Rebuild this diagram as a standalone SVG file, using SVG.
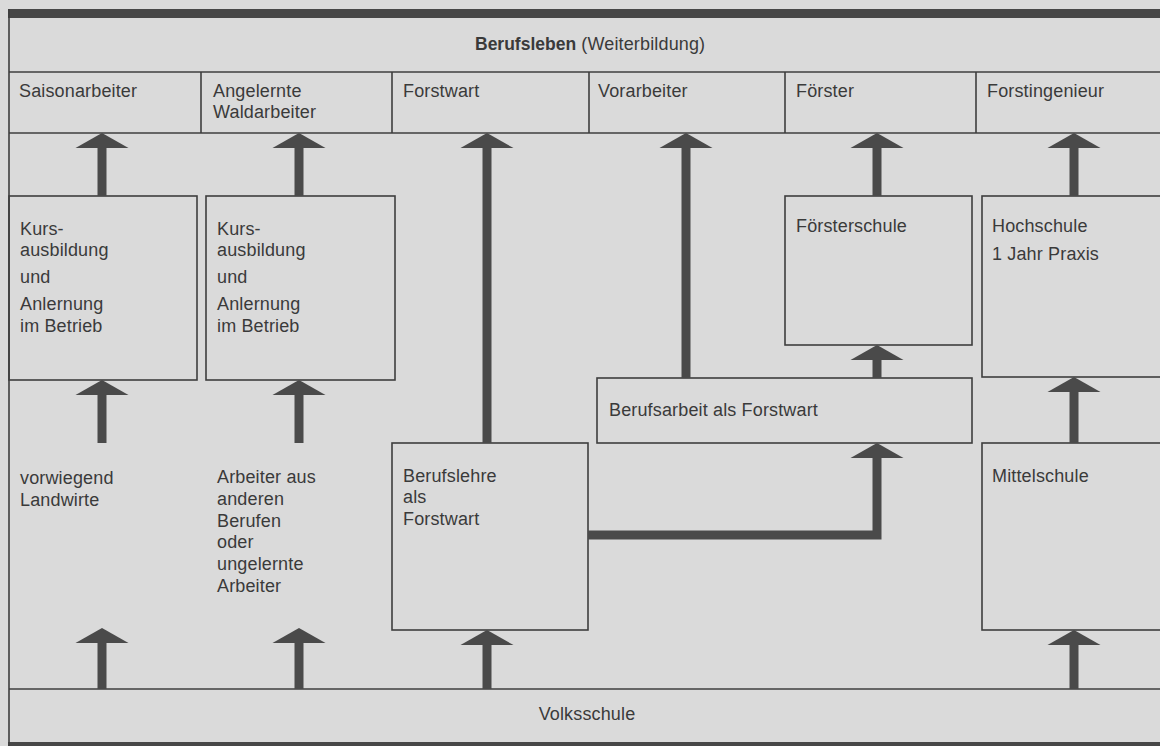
<svg xmlns="http://www.w3.org/2000/svg" width="1160" height="746" viewBox="0 0 1160 746">
<style>
text{font-family:"Liberation Sans",Arial,sans-serif;font-size:18px;letter-spacing:0.15px;fill:#3a3a3a}
.b{font-weight:bold;font-size:17.5px;letter-spacing:0}
.box{fill:none;stroke:#3e3e3e;stroke-width:1.6}
.ln{stroke:#3e3e3e;stroke-width:1.6;fill:none}
.shaft{stroke:#4a4a4a;stroke-width:9;fill:none;stroke-linejoin:miter}
.head{fill:#4a4a4a}
</style>
<defs>
<path id="head" class="head" d="M0,0 L26.5,15 L-26.5,15 Z"/>
</defs>
<rect x="0" y="0" width="1160" height="746" fill="#dadada"/>
<g id="frame">
<rect x="8" y="9" width="1152" height="9" fill="#474747"/>
<rect x="8" y="742" width="1152" height="4" fill="#474747"/>
<line class="ln" x1="9" y1="9" x2="9" y2="746"/>
</g>
<g id="header">
<text x="475" y="50"><tspan class="b">Berufsleben</tspan>  (Weiterbildung)</text>
<line class="ln" x1="9" y1="72" x2="1160" y2="72"/>
<line class="ln" x1="9" y1="133" x2="1160" y2="133"/>
</g>
<g id="saisonarbeiter"><text x="19" y="97">Saisonarbeiter</text><line class="ln" x1="201" y1="72" x2="201" y2="133"/></g>
<g id="angelernte"><text x="213" y="97">Angelernte</text><text x="213" y="118">Waldarbeiter</text><line class="ln" x1="392" y1="72" x2="392" y2="133"/></g>
<g id="forstwart"><text x="403" y="97">Forstwart</text><line class="ln" x1="589" y1="72" x2="589" y2="133"/></g>
<g id="vorarbeiter"><text x="598" y="97">Vorarbeiter</text><line class="ln" x1="785" y1="72" x2="785" y2="133"/></g>
<g id="foerster"><text x="796" y="97">Förster</text><line class="ln" x1="976" y1="72" x2="976" y2="133"/></g>
<g id="forstingenieur"><text x="987" y="97">Forstingenieur</text></g>
<g id="kurs1"><rect class="box" x="9" y="196" width="188" height="184"/>
<text x="20" y="235">Kurs-</text><text x="20" y="256">ausbildung</text><text x="20" y="283">und</text><text x="20" y="310">Anlernung</text><text x="20" y="332">im Betrieb</text></g>
<g id="kurs2"><rect class="box" x="206" y="196" width="189" height="184"/>
<text x="217" y="235">Kurs-</text><text x="217" y="256">ausbildung</text><text x="217" y="283">und</text><text x="217" y="310">Anlernung</text><text x="217" y="332">im Betrieb</text></g>
<g id="foersterschule"><rect class="box" x="785" y="196" width="187" height="149"/><text x="796" y="232">Försterschule</text></g>
<g id="hochschule"><rect class="box" x="982" y="196" width="190" height="181"/><text x="992" y="232">Hochschule</text><text x="992" y="260">1 Jahr Praxis</text></g>
<g id="berufsarbeit"><rect class="box" x="597" y="378" width="375" height="65"/><text x="609" y="416">Berufsarbeit als Forstwart</text></g>
<g id="landwirte"><text x="20" y="484">vorwiegend</text><text x="20" y="506">Landwirte</text></g>
<g id="arbeiter"><text x="217" y="483">Arbeiter aus</text><text x="217" y="505">anderen</text><text x="217" y="527">Berufen</text><text x="217" y="548">oder</text><text x="217" y="570">ungelernte</text><text x="217" y="592">Arbeiter</text></g>
<g id="berufslehre"><rect class="box" x="392" y="443" width="196" height="187"/><text x="403" y="482">Berufslehre</text><text x="403" y="503">als</text><text x="403" y="525">Forstwart</text></g>
<g id="mittelschule"><rect class="box" x="982" y="443" width="190" height="187"/><text x="992" y="482">Mittelschule</text></g>
<g id="volksschule"><line class="ln" x1="9" y1="689" x2="1160" y2="689"/><text x="587" y="720" text-anchor="middle">Volksschule</text></g>
<g id="connectors">
<line class="shaft" x1="102" y1="196" x2="102" y2="146"/><use href="#head" x="102" y="133"/>
<line class="shaft" x1="299" y1="196" x2="299" y2="146"/><use href="#head" x="299" y="133"/>
<line class="shaft" x1="487" y1="443" x2="487" y2="146"/><use href="#head" x="487" y="133"/>
<line class="shaft" x1="686" y1="378" x2="686" y2="146"/><use href="#head" x="686" y="133"/>
<line class="shaft" x1="877" y1="196" x2="877" y2="146"/><use href="#head" x="877" y="133"/>
<line class="shaft" x1="1074" y1="196" x2="1074" y2="146"/><use href="#head" x="1074" y="133"/>
<line class="shaft" x1="102" y1="443" x2="102" y2="393"/><use href="#head" x="102" y="380"/>
<line class="shaft" x1="299" y1="443" x2="299" y2="393"/><use href="#head" x="299" y="380"/>
<line class="shaft" x1="877" y1="378" x2="877" y2="358"/><use href="#head" x="877" y="345"/>
<path class="shaft" d="M588,535 H877 V456"/><use href="#head" x="877" y="443"/>
<line class="shaft" x1="1074" y1="443" x2="1074" y2="390"/><use href="#head" x="1074" y="377"/>
<line class="shaft" x1="102" y1="689" x2="102" y2="641"/><use href="#head" x="102" y="628"/>
<line class="shaft" x1="299" y1="689" x2="299" y2="641"/><use href="#head" x="299" y="628"/>
<line class="shaft" x1="487" y1="689" x2="487" y2="643"/><use href="#head" x="487" y="630"/>
<line class="shaft" x1="1074" y1="689" x2="1074" y2="643"/><use href="#head" x="1074" y="630"/>
</g>
</svg>
